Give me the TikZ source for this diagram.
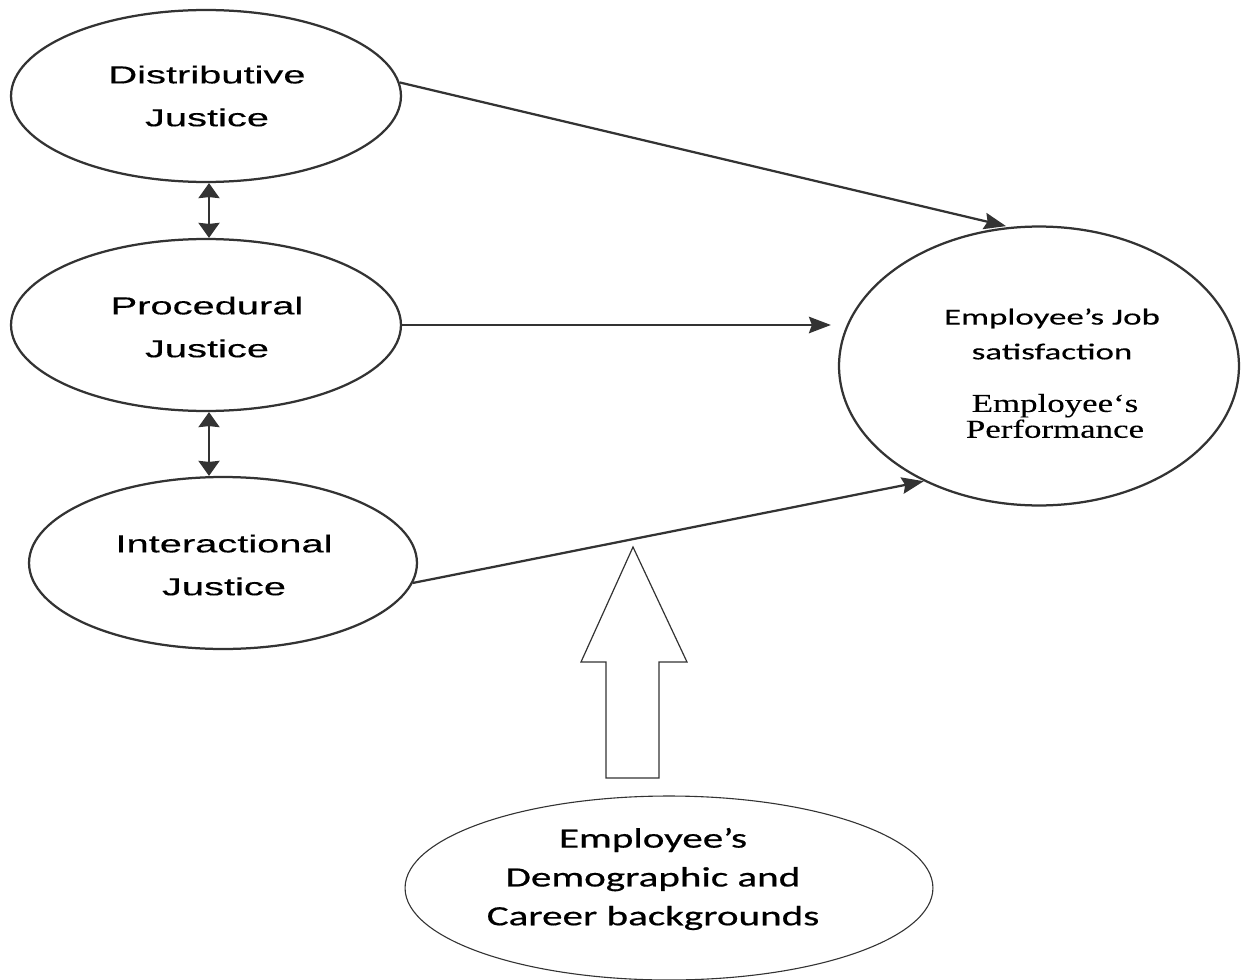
\documentclass[tikz,border=0pt]{standalone}
\usepackage{fontspec}
\usetikzlibrary{shapes.geometric,arrows.meta}
\newfontfamily\arialx[FakeStretch=1.62,FakeBold=0.3]{Liberation Sans}
\newfontfamily\calx[FakeStretch=1.53,FakeBold=0.3]{Carlito}
\newfontfamily\calb[FakeStretch=1.47,FakeBold=0.6]{Carlito}
\newfontfamily\timesx[FakeStretch=1.35,FakeBold=0.2]{Liberation Serif}
\definecolor{ink}{HTML}{333333}
\tikzset{
  just/.style={draw=ink, line width=0.045cm, ellipse, inner sep=0pt,
    minimum width=7.8cm, minimum height=3.44cm},
  justtxt/.style={align=center, inner sep=0pt,
    font=\arialx\fontsize{14}{24.4}\selectfont},
  outcome/.style={draw=ink, line width=0.045cm, ellipse, inner sep=0pt,
    minimum width=8.0cm, minimum height=5.58cm},
  demo/.style={draw=ink, line width=0.022cm, ellipse, inner sep=0pt,
    minimum width=10.56cm, minimum height=3.68cm},
  conn/.style={draw=ink, line width=0.045cm,
    -{Stealth[length=0.44cm, width=0.33cm, inset=0.06cm]}},
  dbl/.style={draw=ink, line width=0.045cm,
    {Stealth[length=0.3cm, width=0.42cm, inset=0.02cm]}-{Stealth[length=0.3cm, width=0.42cm, inset=0.02cm]}},
  bigarrow/.style={draw=ink, line width=0.024cm, fill=white, line join=miter}
}
\begin{document}
\begin{tikzpicture}[x=0.02cm, y=-0.02cm]
\useasboundingbox (0,0) rectangle (1241,980);

% justice ellipses
\node[just] (dj) at (206,96) {};
\node[justtxt] (djt) at (207,96) {Distributive\\Justice};
\node[just] (pj) at (206,325) {};
\node[justtxt] (pjt) at (207,327) {Procedural\\Justice};
\node[just, minimum width=7.76cm] (ij) at (223,563) {};
\node[justtxt] (ijt) at (224,565) {Interactional\\Justice};

% outcome circle
\node[outcome] (out) at (1039,366) {};
\node[align=center, inner sep=0pt, font=\calx\fontsize{13}{19.8}\selectfont]
  (jobt) at (1052,334) {Employee’s Job\\satisfaction};
\node[align=center, inner sep=0pt, font=\timesx\fontsize{14.7}{14.7}\selectfont]
  (perft) at (1055,416) {Employee‘s\\Performance};

% demographic ellipse
\node[demo] (dem) at (669,888) {};
\node[align=center, inner sep=0pt, font=\calb\fontsize{15.9}{22.1}\selectfont]
  (demt) at (653,879) {Employee’s\\Demographic and\\Career backgrounds};

% connectors
\draw[conn, shorten >=0.07cm] (dj.4) -- (out.102);
\draw[conn, shorten >=0.14cm] (pj.east) -- (pj.east -| out.west);
\draw[conn] (ij.-6) -- (out.225);
\draw[dbl] (dj.south -| 209,0) -- (pj.north -| 209,0);
\draw[dbl] (pj.south -| 209,0) -- (ij.north -| 209,0);

% hollow block arrow
\draw[bigarrow] (606,778) -- (606,662) -- (581,662) -- (633,547)
  -- (687,662) -- (659,662) -- (659,778) -- cycle;
\end{tikzpicture}
\end{document}
